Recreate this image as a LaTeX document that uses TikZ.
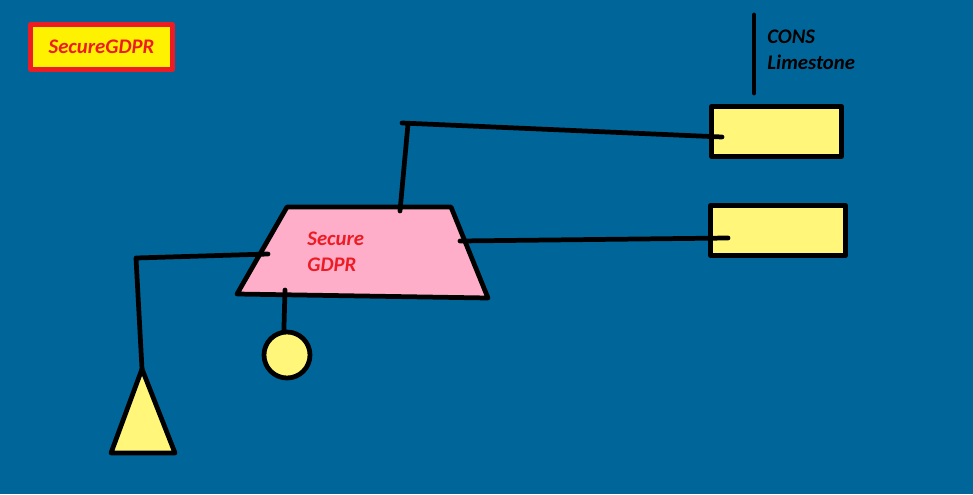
\documentclass[tikz,border=0pt]{standalone}
\usepackage{fontspec}
\setmainfont{Carlito}
\usepackage{xcolor}
\usepackage{tikz}
\definecolor{sea}{RGB}{0,102,153}
\definecolor{pad}{RGB}{255,246,122}
\definecolor{rose}{RGB}{255,174,201}
\definecolor{alarm}{RGB}{237,28,36}
\definecolor{lemon}{RGB}{255,242,0}

\begin{document}
\begin{tikzpicture}[x=0.02cm, y=-0.02cm, line width=2.7pt, line cap=round, line join=round,
        padbox/.style={draw=black, fill=pad, rectangle, inner sep=0pt, minimum height=1.0cm},
        tag/.style={font=\bfseries\itshape\fontsize{11.8}{14.7}\selectfont, align=left, inner sep=0pt}]
        \fill[sea] (0,0) rectangle (973,494);
        \useasboundingbox (0,0) rectangle (973,494);
        % title
        \node[draw=alarm, line width=2.83pt, fill=lemon, minimum width=2.84cm, minimum height=0.9cm,
        text=alarm, tag] (title) at (101.5,47) {SecureGDPR};
        % limestone
        \coordinate (cons1) at (754,15);
        \coordinate (cons2) at (754,93);
        \draw (cons1) -- (cons2);
        \node[tag, anchor=west] (cons) at (765,50) {CONS\\Limestone};
        \node[padbox, minimum width=2.6cm] (rock) at (776.5,131.5) {};
        \node[padbox, minimum width=2.7cm] (slab) at (778,230.5) {};
        % gdpr block
        \filldraw[fill=rose] (287,207) coordinate (tl) -- (451,207) coordinate (tr)
        -- (488,298) coordinate (br) -- (237,294) coordinate (bl) -- cycle;
        \node[tag, text=alarm, anchor=west] (core) at (305,252) {Secure\\GDPR};
        \node[draw=black, fill=pad, circle, minimum size=0.92cm, inner sep=0pt] (ball) at (287,355) {};
        \filldraw[fill=pad] (142,369) coordinate (apex) -- (175,453) coordinate (cone2)
        -- (111,453) coordinate (cone1) -- cycle;
        % wires
        \coordinate (up0) at (402,123);
        \coordinate (up1) at (400,211);
        \coordinate (up2) at (408,124);
        \coordinate (up3) at (722,137);
        \draw (up1) -- (up2);
        \draw (up0) -- (up3);
        \coordinate (mid1) at (460,241);
        \coordinate (mid2) at (728,238);
        \draw (mid1) -- (mid2);
        \coordinate (lf1) at (268,254);
        \coordinate (lf2) at (136,258);
        \draw (lf1) -- (lf2) -- (apex);
        \coordinate (dn1) at (285,290);
        \draw (dn1) -- (ball.97);
\end{tikzpicture}
\end{document}
